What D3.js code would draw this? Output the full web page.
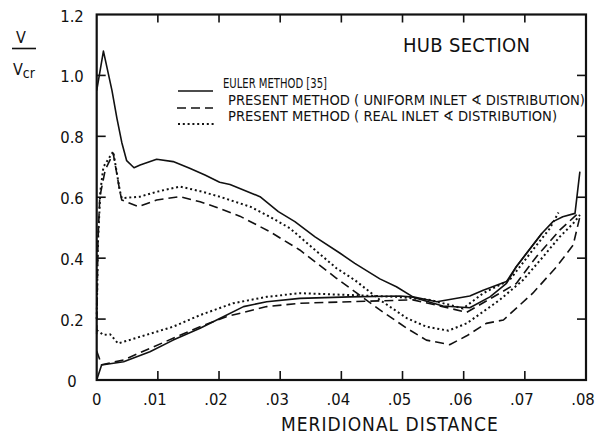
<!DOCTYPE html>
<html>
<head>
<meta charset="utf-8">
<script src="https://cdn.jsdelivr.net/npm/d3@7"></script>
<style>
  html, body { margin: 0; padding: 0; background: #fff; }
  svg { display: block; }
  text { font-family: "DejaVu Sans Condensed", "DejaVu Sans", sans-serif; fill: #111; }
</style>
</head>
<body>
<svg id="chart" width="597" height="437"></svg>
<script>
// Velocity ratio V/Vcr along the hub section, meridional distance in metres.
const xTicks = [0, 0.01, 0.02, 0.03, 0.04, 0.05, 0.06, 0.07, 0.08];
const xTickLabels = ["0", ".01", ".02", ".03", ".04", ".05", ".06", ".07", ".08"];
const yTicks = [0, 0.2, 0.4, 0.6, 0.8, 1.0, 1.2];
const yTickLabels = ["0", "0.2", "0.4", "0.6", "0.8", "1.0", "1.2"];

const titleText = "HUB SECTION";
const xTitle = "MERIDIONAL DISTANCE";
const legendLabels = [
  "EULER METHOD [35]",
  "PRESENT METHOD ( UNIFORM INLET \u2222 DISTRIBUTION)",
  "PRESENT METHOD ( REAL  INLET \u2222 DISTRIBUTION)"
];

// Euler method, suction and pressure surfaces
const eulerUpper = [
  [0, 0.95], [0.0011, 1.08], [0.0025, 0.95], [0.0033, 0.86], [0.0041, 0.78],
  [0.0049, 0.72], [0.0061, 0.697], [0.0071, 0.706], [0.0098, 0.725], [0.0125, 0.717],
  [0.0152, 0.695], [0.0177, 0.673], [0.0201, 0.649], [0.0218, 0.642], [0.0267, 0.602],
  [0.0297, 0.553], [0.0324, 0.52], [0.0357, 0.47], [0.0398, 0.416], [0.0422, 0.383],
  [0.0463, 0.332], [0.049, 0.306], [0.0517, 0.273], [0.0556, 0.257], [0.061, 0.276],
  [0.0632, 0.295], [0.067, 0.323], [0.0686, 0.372], [0.0728, 0.482], [0.0746, 0.52],
  [0.0762, 0.536], [0.0782, 0.547], [0.079, 0.684]
];
const eulerLower = [
  [0, 0], [0.0008, 0.049], [0.0044, 0.06], [0.0087, 0.093], [0.0125, 0.131],
  [0.0169, 0.17], [0.0202, 0.203], [0.024, 0.241], [0.0278, 0.257], [0.0332, 0.268],
  [0.0414, 0.273], [0.0496, 0.276], [0.0517, 0.272], [0.0566, 0.243], [0.061, 0.237],
  [0.0643, 0.273], [0.067, 0.317], [0.0686, 0.372], [0.0728, 0.482]
];

// Present method, uniform inlet angle distribution
const uniformUpper = [
  [0, 0.15], [0.0002, 0.45], [0.0005, 0.6], [0.0014, 0.69], [0.0027, 0.744],
  [0.0038, 0.618], [0.0041, 0.591], [0.0068, 0.569], [0.0098, 0.591], [0.0136, 0.602],
  [0.0169, 0.585], [0.0193, 0.569], [0.0234, 0.538], [0.0283, 0.487], [0.0332, 0.427],
  [0.0392, 0.334], [0.0422, 0.29], [0.0463, 0.23], [0.0507, 0.17], [0.0539, 0.131],
  [0.0577, 0.116], [0.0605, 0.145], [0.0637, 0.186], [0.0665, 0.197], [0.0713, 0.285],
  [0.0752, 0.372], [0.0779, 0.443], [0.079, 0.536]
];
const uniformLower = [
  [0, 0.095], [0.0008, 0.05], [0.0044, 0.066], [0.0125, 0.137], [0.0169, 0.175],
  [0.0212, 0.208], [0.0278, 0.241], [0.0332, 0.252], [0.0414, 0.257], [0.0517, 0.263],
  [0.0566, 0.241], [0.0605, 0.222], [0.0659, 0.285], [0.0686, 0.317], [0.0719, 0.405],
  [0.0757, 0.492], [0.0787, 0.547]
];

// Present method, real inlet angle distribution
const realUpper = [
  [0, 0.2], [0.0002, 0.45], [0.0006, 0.62], [0.0011, 0.7], [0.0027, 0.75],
  [0.0038, 0.62], [0.0041, 0.597], [0.0071, 0.602], [0.0098, 0.618], [0.0136, 0.635],
  [0.0169, 0.62], [0.0201, 0.602], [0.0251, 0.569], [0.0283, 0.536], [0.0316, 0.498],
  [0.0354, 0.432], [0.0392, 0.367], [0.0422, 0.328], [0.0463, 0.263], [0.0507, 0.203],
  [0.0539, 0.175], [0.0575, 0.162], [0.0605, 0.186], [0.0659, 0.263], [0.0697, 0.328],
  [0.073, 0.405], [0.0757, 0.47], [0.0779, 0.514], [0.079, 0.542]
];
const realLower = [
  [0, 0.164], [0.0011, 0.148], [0.0022, 0.15], [0.0035, 0.12], [0.0071, 0.142],
  [0.0125, 0.175], [0.0169, 0.213], [0.0223, 0.252], [0.0278, 0.273], [0.0332, 0.285],
  [0.0414, 0.279], [0.049, 0.273], [0.0545, 0.263], [0.0599, 0.235], [0.0632, 0.285],
  [0.0675, 0.328], [0.0713, 0.427], [0.0741, 0.498], [0.0755, 0.55]
];

const svg = d3.select("#chart");
const x = d3.scaleLinear().domain([0, 0.08]).range([96.7, 586]);
const y = d3.scaleLinear().domain([0, 1.2]).range([380, 14.5]);

const styles = {
  solid:  { dash: null, width: 1.6 },
  dashed: { dash: "9,5", width: 1.6 },
  dotted: { dash: "2,2.8", width: 2 }
};

const series = [
  { data: eulerUpper, style: "solid" },
  { data: eulerLower, style: "solid" },
  { data: uniformUpper, style: "dashed" },
  { data: uniformLower, style: "dashed" },
  { data: realUpper, style: "dotted" },
  { data: realLower, style: "dotted" }
];

const line = d3.line().x(d => x(d[0])).y(d => y(d[1])).curve(d3.curveLinear);

svg.append("g").selectAll("path")
  .data(series)
  .join("path")
  .attr("d", d => line(d.data))
  .attr("fill", "none")
  .attr("stroke", "#111")
  .attr("stroke-width", d => styles[d.style].width)
  .attr("stroke-linejoin", "round")
  .attr("stroke-dasharray", d => styles[d.style].dash);

// Frame with inward ticks on all four sides
const innerX = xTicks.slice(1, -1);
const innerY = yTicks.slice(1, -1);
const frame = svg.append("g").attr("stroke", "#111").attr("stroke-width", 2.2).attr("fill", "none");
frame.append("rect")
  .attr("x", x(0)).attr("y", y(1.2))
  .attr("width", x(0.08) - x(0)).attr("height", y(0) - y(1.2));

const tickLen = 9;
const tg = svg.append("g").attr("stroke", "#111").attr("stroke-width", 1.6);
tg.selectAll(".tb").data(innerX).join("line")
  .attr("x1", d => x(d)).attr("x2", d => x(d))
  .attr("y1", y(0)).attr("y2", y(0) - tickLen);
tg.selectAll(".tt").data(innerX).join("line")
  .attr("x1", d => x(d)).attr("x2", d => x(d))
  .attr("y1", y(1.2)).attr("y2", y(1.2) + tickLen - 1);
tg.selectAll(".tl").data(innerY).join("line")
  .attr("y1", d => y(d)).attr("y2", d => y(d))
  .attr("x1", x(0)).attr("x2", x(0) + tickLen);
tg.selectAll(".tr").data(innerY).join("line")
  .attr("y1", d => y(d)).attr("y2", d => y(d))
  .attr("x1", x(0.08)).attr("x2", x(0.08) - tickLen);

// Tick labels
svg.append("g").selectAll("text")
  .data(xTicks)
  .join("text")
  .attr("x", (d, i) => x(d) + (i === 0 ? 0 : -3))
  .attr("y", 405)
  .attr("text-anchor", "middle")
  .attr("font-size", 16.5)
  .text((d, i) => xTickLabels[i]);

svg.append("g").selectAll("text")
  .data(yTicks)
  .join("text")
  .attr("x", 72)
  .attr("y", d => y(d) + 7)
  .attr("text-anchor", "middle")
  .attr("font-size", 16.5)
  .text((d, i) => yTickLabels[i]);

// Axis titles
svg.append("text")
  .attr("x", 281).attr("y", 431)
  .attr("font-size", 19)
  .attr("letter-spacing", 1)
  .text(xTitle);

const yl = svg.append("g");
yl.append("text").attr("x", 21).attr("y", 43).attr("text-anchor", "middle")
  .attr("font-size", 16).text("V");
yl.append("line").attr("x1", 12).attr("x2", 36).attr("y1", 48.5).attr("y2", 48.5)
  .attr("stroke", "#111").attr("stroke-width", 1.6);
const den = yl.append("text").attr("x", 13).attr("y", 75).attr("font-size", 16);
den.append("tspan").text("V");
den.append("tspan").attr("font-size", 14).attr("dy", 3).text("cr");

// Title
svg.append("text")
  .attr("x", 403).attr("y", 52)
  .attr("font-size", 20)
  .attr("letter-spacing", 0.3)
  .text(titleText);

// Legend
const legendRows = [
  { style: "solid",  y: 91,  x1: 178, x2: 213, tx: 223, size: 13.4, len: 104 },
  { style: "dashed", y: 108, x1: 177, x2: 213, tx: 228, size: 14.6, len: null },
  { style: "dotted", y: 124, x1: 178, x2: 215, tx: 228, size: 14.6, len: null }
];
const lg = svg.append("g");
lg.selectAll("line").data(legendRows).join("line")
  .attr("x1", d => d.x1).attr("x2", d => d.x2)
  .attr("y1", d => d.y).attr("y2", d => d.y)
  .attr("stroke", "#111")
  .attr("stroke-width", d => styles[d.style].width)
  .attr("stroke-dasharray", d => styles[d.style].dash);
lg.selectAll("text").data(legendRows).join("text")
  .attr("x", d => d.tx).attr("y", d => d.y - 3)
  .attr("font-size", d => d.size)
  .attr("textLength", d => d.len)
  .attr("lengthAdjust", "spacingAndGlyphs")
  .text((d, i) => legendLabels[i]);
</script>
</body>
</html>
